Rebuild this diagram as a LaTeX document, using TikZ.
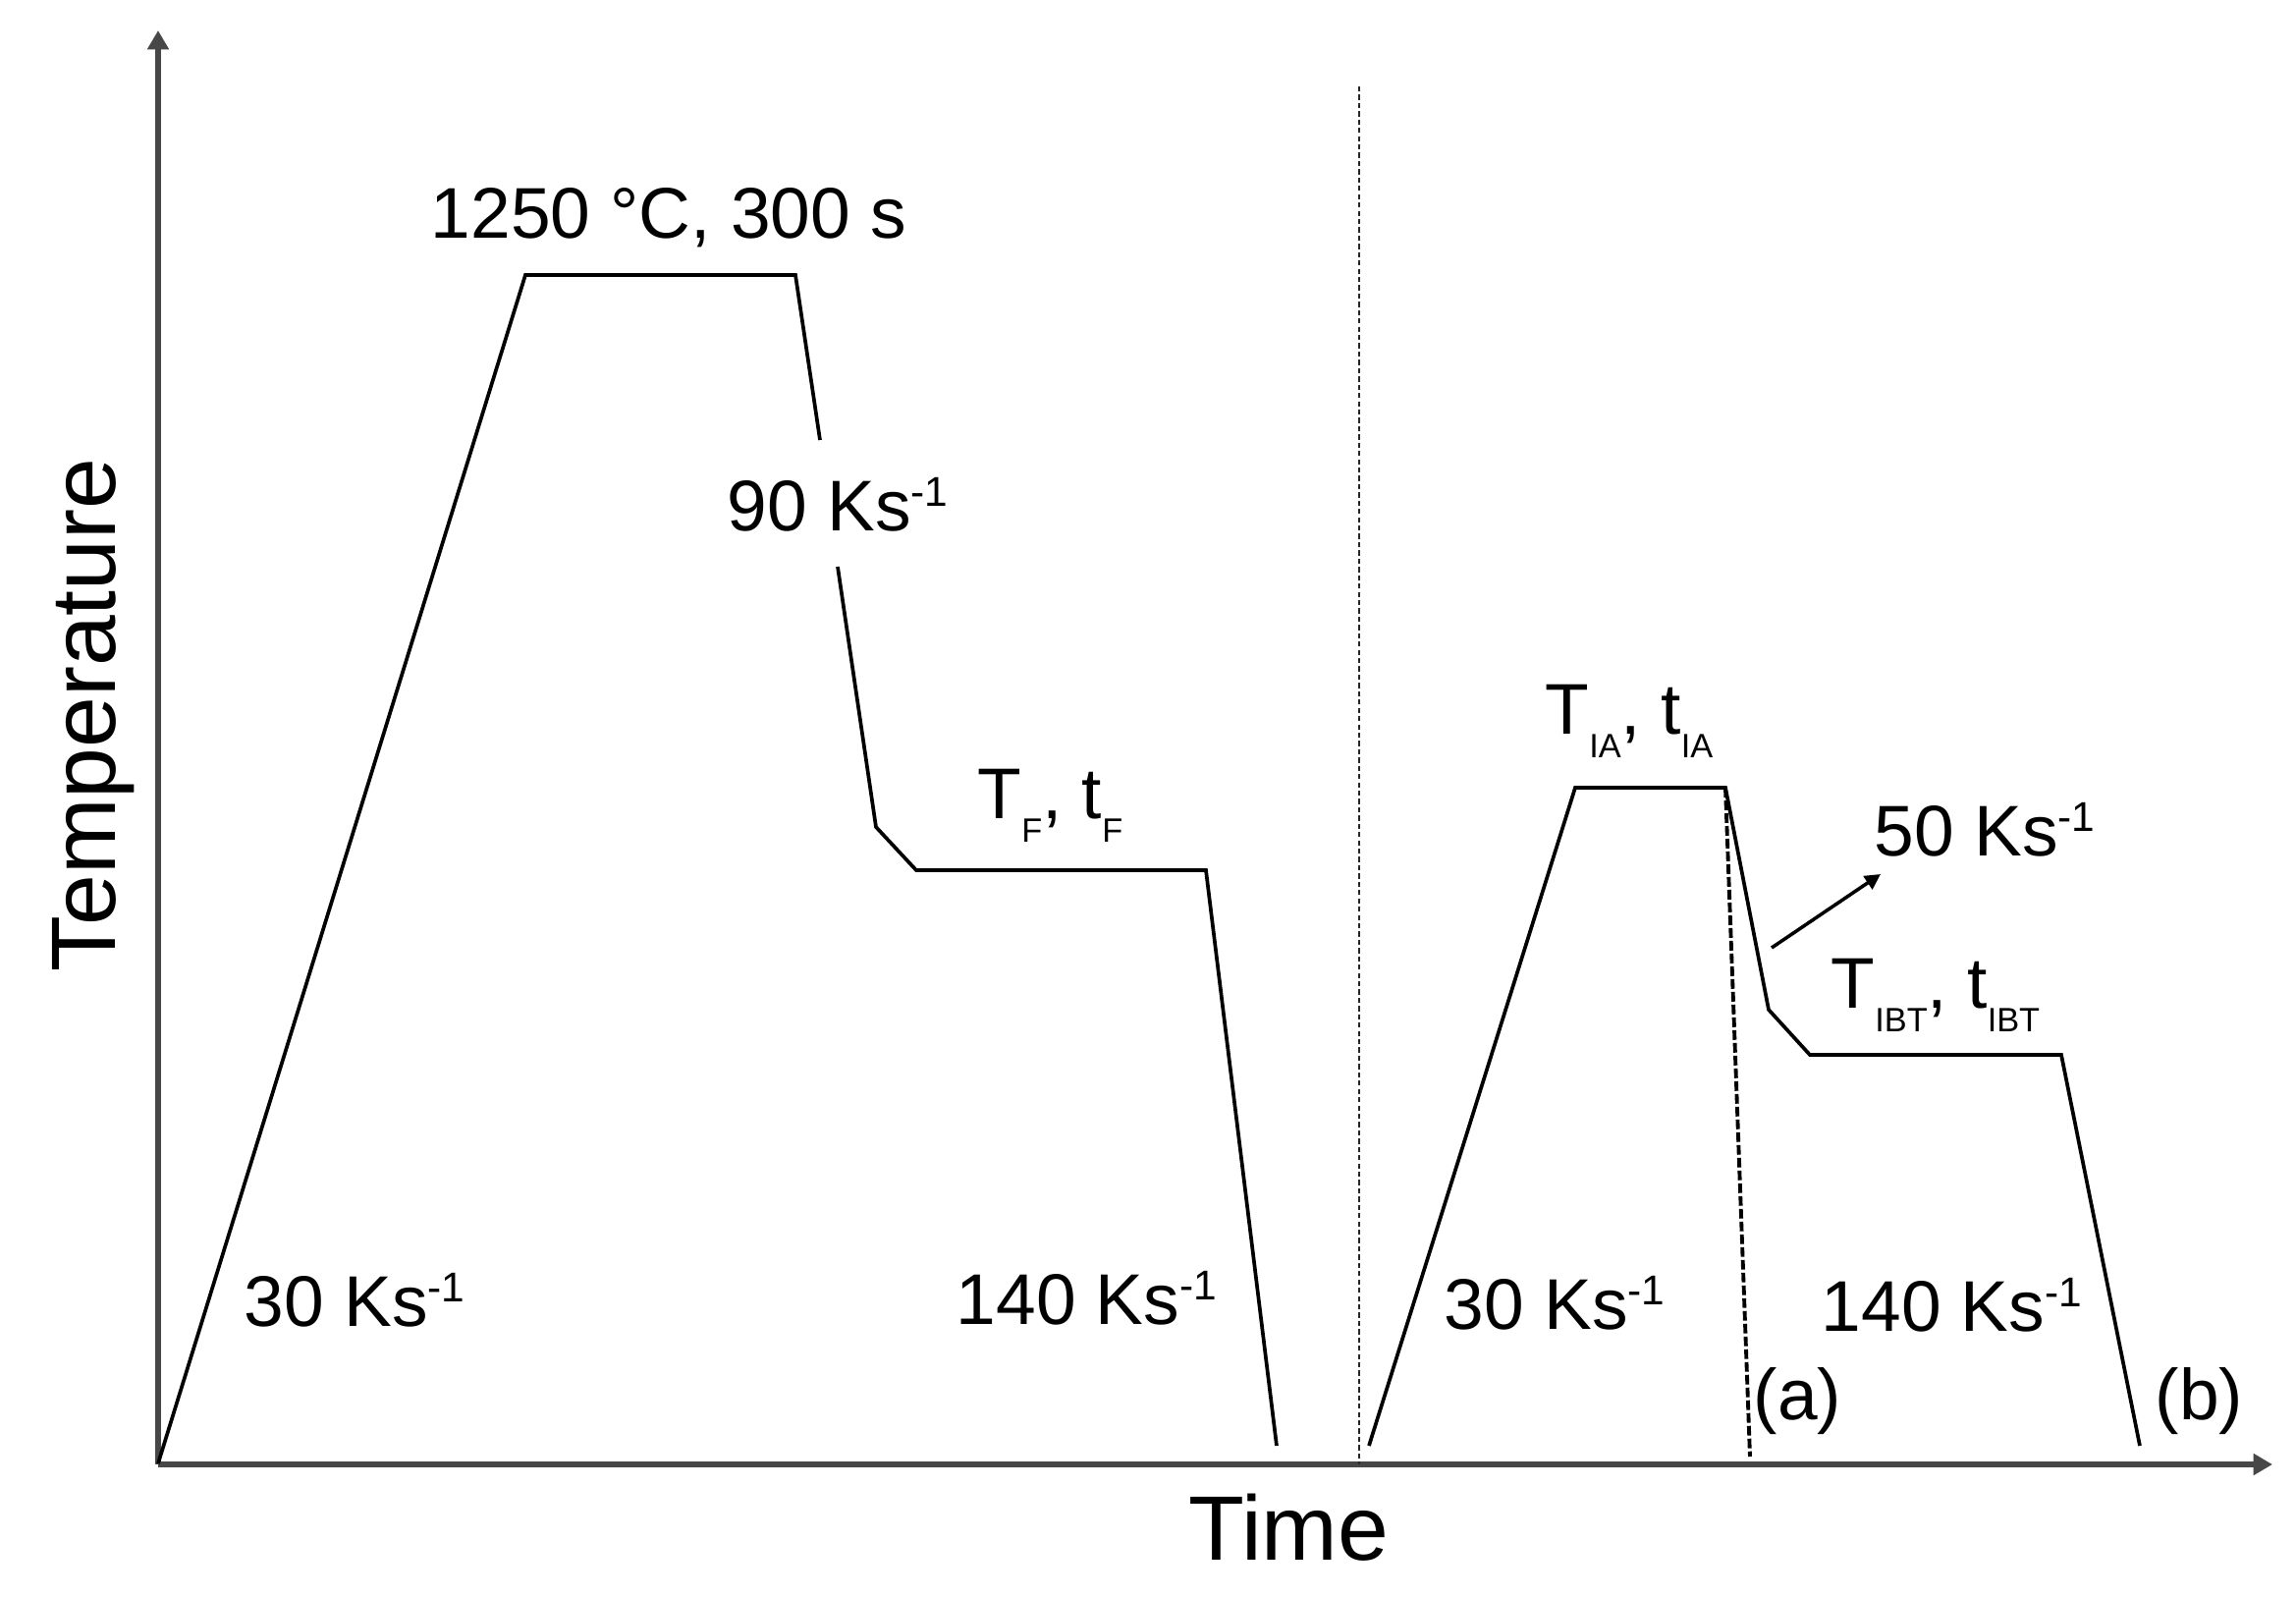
\documentclass[tikz,border=0pt]{standalone}
\usepackage{fontspec}
\usepackage{graphicx}
\setmainfont{Liberation Sans}
\usetikzlibrary{arrows.meta}
\newcommand{\supr}[1]{\raisebox{0.33em}{\scalebox{0.58}{#1}}}
\newcommand{\subr}[1]{\raisebox{-0.33em}{\scalebox{0.47}{#1}}}
\begin{document}
\begin{tikzpicture}[x=0.1mm,y=-0.1mm,
  axisline/.style={line width=1.6pt,draw=black!72,-{Triangle[length=5.5pt,width=6pt]}},
  prof/.style={line width=1.05pt,draw=black,line join=miter},
  sepline/.style={line width=0.65pt,draw=black!85,dash pattern=on 1.5pt off 0.9pt},
  adash/.style={line width=1.1pt,draw=black,dash pattern=on 2.8pt off 0.9pt},
  lab/.style={inner sep=0pt,font=\fontsize{20.8pt}{24pt}\selectfont},
  biglab/.style={inner sep=0pt,font=\fontsize{26.5pt}{30pt}\selectfont}]
\useasboundingbox (0,0) rectangle (2338,1626);
% axes
\coordinate (O) at (161,1491);
\coordinate (Ytop) at (161,31);
\coordinate (Xend) at (2314,1491);
\draw[axisline] (O) -- (Ytop);
\draw[axisline] (O) -- (Xend);
% left profile
\coordinate (L0) at (161,1490);
\coordinate (L1) at (535,280);
\coordinate (L2) at (810,280);
\coordinate (L3) at (835,448);
\coordinate (L4) at (853,577);
\coordinate (L5) at (892,842);
\coordinate (L6) at (933,886);
\coordinate (L7) at (1228,886);
\coordinate (L8) at (1300,1472);
\draw[prof] (L0) -- (L1) -- (L2) -- (L3);
\draw[prof] (L4) -- (L5) -- (L6) -- (L7) -- (L8);
% separator
\coordinate (S0) at (1384,88);
\coordinate (S1) at (1384,1491);
\draw[sepline] (S0) -- (S1);
% right profile
\coordinate (R0) at (1394,1472);
\coordinate (R1) at (1604,802);
\coordinate (R2) at (1757,802);
\coordinate (R3) at (1801,1028);
\coordinate (R4) at (1843,1074);
\coordinate (R5) at (2099,1074);
\coordinate (R6) at (2179,1472);
\draw[prof] (R0) -- (R1) -- (R2) -- (R3) -- (R4) -- (R5) -- (R6);
\coordinate (A1) at (1782,1483);
\draw[adash] (R2) -- (A1);
% arrow to 50 Ks-1
\coordinate (P0) at (1804,965);
\coordinate (P1) at (1915,890);
\draw[line width=1pt,-{Triangle[length=4.5pt,width=4.5pt]}] (P0) -- (P1);
% labels
\node[lab,anchor=base] (t1250) at (681,242) {1250 °C, 300 s};
\node[lab,anchor=base west] (t90) at (740,540) {90 Ks\supr{-1}};
\node[lab,anchor=base west] (tF) at (995,833) {T\subr{F}, t\subr{F}};
\node[lab,anchor=base west] (t30a) at (248,1350) {30 Ks\supr{-1}};
\node[lab,anchor=base west] (t140a) at (973,1348) {140 Ks\supr{-1}};
\node[lab,anchor=base west] (tIA) at (1573,747) {T\subr{IA}, t\subr{IA}};
\node[lab,anchor=base west] (t50) at (1908,871) {50 Ks\supr{-1}};
\node[lab,anchor=base west] (tIBT) at (1864,1026) {T\subr{IBT}, t\subr{IBT}};
\node[lab,anchor=base west] (t30b) at (1470,1353) {30 Ks\supr{-1}};
\node[lab,anchor=base west] (t140b) at (1854,1355) {140 Ks\supr{-1}};
\node[lab,anchor=base west] (ta) at (1785,1445) {(a)};
\node[lab,anchor=base west] (tb) at (2194,1445) {(b)};
\node[biglab,anchor=base west] (time) at (1210,1588) {Time};
\node[biglab,anchor=base,rotate=90] (temp) at (117,728) {Temperature};
\end{tikzpicture}
\end{document}
